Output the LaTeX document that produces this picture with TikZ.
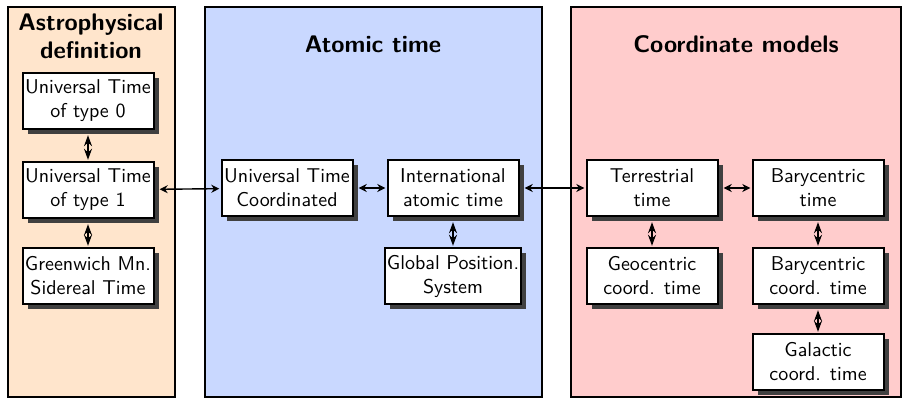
\documentclass[tikz,border=0pt]{standalone}
\usepackage{tikz}
\usetikzlibrary{positioning, arrows.meta, shadows}

\definecolor{atomicblue}{RGB}{201,216,255}

\tikzset{
    panel/.style={draw=black, line width=1pt},
    paneltitle/.style={font=\sffamily\bfseries\large, align=center},
    timebox/.style={draw=black, line width=1pt, fill=white, align=center,
        minimum width=65.5pt, minimum height=28pt, inner sep=1pt,
        drop shadow={shadow xshift=2.5pt, shadow yshift=-2.5pt,
            fill=black!75, opacity=1}},
    link/.style={{Stealth[length=4pt, width=4pt]}-{Stealth[length=4pt, width=4pt]},
        line width=0.7pt, shorten <=2.6pt, shorten >=0.6pt},
    vlink/.style={{Stealth[length=5.5pt, width=4pt]}-{Stealth[length=5.5pt, width=4pt]},
        line width=0.7pt, shorten <=2.6pt, shorten >=0.6pt}
}

\begin{document}
\begin{tikzpicture}[x=0.5pt, y=-0.5pt, every node/.style={font=\sffamily}]
    \useasboundingbox (0,0) rectangle (911,406);

    % the three families of time scales
    \draw[panel, fill=orange!20] (8,7) rectangle (175,397);
    \draw[panel, fill=atomicblue] (205,7) rectangle (542,397);
    \draw[panel, fill=red!20] (571,7) rectangle (901,397);

    \node[paneltitle] (astrotitle) at (91,36) {Astrophysical\\definition};
    \node[paneltitle] (atomictitle) at (373,44) {Atomic time};
    \node[paneltitle] (coordtitle) at (736,44) {Coordinate models};

    % astrophysical
    \node[timebox] (ut0) at (88,101) {Universal Time\\of type 0};
    \node[timebox] (ut1) at (88,190) {Universal Time\\of type 1};
    \node[timebox] (gmst) at (88,276) {Greenwich Mn.\\Sidereal Time};

    % atomic
    \node[timebox] (utc) at (287,188) {Universal Time\\Coordinated};
    \node[timebox] (tai) at (453,188) {International\\atomic time};
    \node[timebox] (gps) at (453,276) {Global Position.\\System};

    % coordinate models
    \node[timebox] (tt) at (652,188) {Terrestrial\\time};
    \node[timebox] (tdb) at (818,188) {Barycentric\\time};
    \node[timebox] (tcg) at (652,276) {Geocentric\\coord. time};
    \node[timebox] (tcb) at (818,276) {Barycentric\\coord. time};
    \node[timebox] (galct) at (818,362) {Galactic\\coord. time};

    \draw[vlink] (ut0) -- (ut1);
    \draw[vlink] (ut1) -- (gmst);
    \draw[link] (ut1) -- (utc);
    \draw[link] (utc) -- (tai);
    \draw[vlink] (tai) -- (gps);
    \draw[link] (tai) -- (tt);
    \draw[link] (tt) -- (tdb);
    \draw[vlink] (tt) -- (tcg);
    \draw[vlink] (tdb) -- (tcb);
    \draw[vlink] (tcb) -- (galct);
\end{tikzpicture}
\end{document}
